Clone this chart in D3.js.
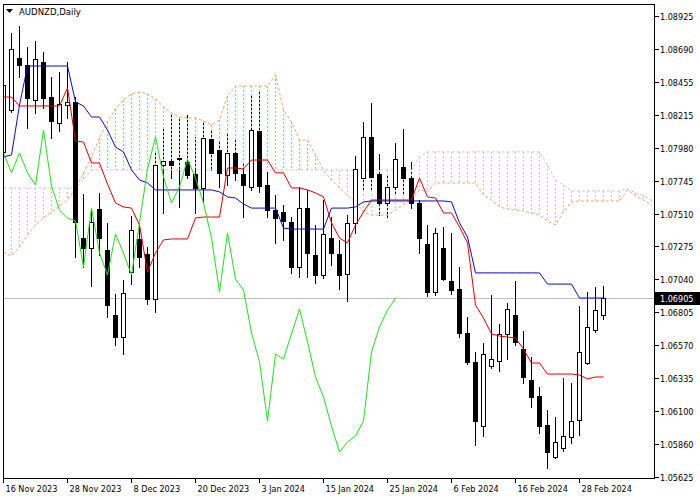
<!DOCTYPE html>
<html><head><meta charset="utf-8">
<script src="https://cdn.jsdelivr.net/npm/d3@7"></script>
<style>
html,body{margin:0;padding:0;background:#fff;}
svg{display:block;}
text{font-family:"DejaVu Sans Condensed","Liberation Sans",sans-serif;font-size:9px;fill:#000;}
</style></head>
<body>
<svg id="c" width="700" height="500"></svg>
<script>
const symbol = "AUDNZD,Daily";
const dates = ["16 Nov 2023","17 Nov 2023","20 Nov 2023","21 Nov 2023","22 Nov 2023","23 Nov 2023","24 Nov 2023","27 Nov 2023","28 Nov 2023","29 Nov 2023",
"30 Nov 2023","1 Dec 2023","4 Dec 2023","5 Dec 2023","6 Dec 2023","7 Dec 2023","8 Dec 2023","11 Dec 2023","12 Dec 2023","13 Dec 2023",
"14 Dec 2023","15 Dec 2023","18 Dec 2023","19 Dec 2023","20 Dec 2023","21 Dec 2023","22 Dec 2023","26 Dec 2023","27 Dec 2023","28 Dec 2023",
"29 Dec 2023","2 Jan 2024","3 Jan 2024","4 Jan 2024","5 Jan 2024","8 Jan 2024","9 Jan 2024","10 Jan 2024","11 Jan 2024","12 Jan 2024",
"15 Jan 2024","16 Jan 2024","17 Jan 2024","18 Jan 2024","19 Jan 2024","22 Jan 2024","23 Jan 2024","24 Jan 2024","25 Jan 2024","26 Jan 2024",
"29 Jan 2024","30 Jan 2024","31 Jan 2024","1 Feb 2024","2 Feb 2024","5 Feb 2024","6 Feb 2024","7 Feb 2024","8 Feb 2024","9 Feb 2024",
"12 Feb 2024","13 Feb 2024","14 Feb 2024","15 Feb 2024","16 Feb 2024","19 Feb 2024","20 Feb 2024","21 Feb 2024","22 Feb 2024","23 Feb 2024",
"26 Feb 2024","27 Feb 2024","28 Feb 2024","29 Feb 2024","1 Mar 2024","4 Mar 2024"];

const opens = [1.07952,1.08252,1.08625,1.08574,1.08324,1.08596,1.08345,1.08160,1.08288,1.08310,
1.07336,1.07264,1.07543,1.07250,1.06784,1.06627,1.07093,1.07329,1.07221,1.06899,
1.07858,1.07887,1.07909,1.07880,1.07794,1.07694,1.08045,1.07966,1.07787,1.07945,
1.07794,1.07701,1.08102,1.07715,1.07536,1.07522,1.07451,1.07128,1.07550,1.07214,
1.07071,1.07336,1.07221,1.07078,1.07444,1.07765,1.08059,1.07794,1.07587,1.07701,
1.07844,1.07765,1.07587,1.07293,1.06950,1.07264,1.07028,1.06971,1.06656,1.06449,
1.05990,1.06420,1.06456,1.06649,1.06784,1.06541,1.06320,1.06205,1.05997,1.05768,
1.05833,1.05912,1.06033,1.06441,1.06677,1.06784];
const highs = [1.08467,1.08804,1.08853,1.08703,1.08746,1.08668,1.08488,1.08524,1.08596,1.08345,
1.07651,1.07536,1.07659,1.07444,1.06935,1.07035,1.07494,1.07415,1.07271,1.07945,
1.08131,1.08216,1.08195,1.08216,1.08059,1.08167,1.08109,1.08037,1.08088,1.08037,
1.07873,1.08360,1.08395,1.07809,1.07644,1.07572,1.07486,1.07701,1.07680,1.07429,
1.07608,1.07486,1.07322,1.07500,1.07923,1.08167,1.08303,1.07937,1.07794,1.08016,
1.08116,1.07880,1.07608,1.07429,1.07408,1.07415,1.07372,1.07128,1.06770,1.06520,
1.06584,1.06928,1.06720,1.06871,1.07028,1.06670,1.06484,1.06269,1.06105,1.06054,
1.06334,1.06298,1.06849,1.06950,1.06985,1.06992];
const lows = [1.07909,1.08238,1.08488,1.08124,1.08231,1.08267,1.08052,1.08102,1.08195,1.07200,
1.07128,1.06992,1.07214,1.06770,1.06570,1.06505,1.07006,1.07128,1.06863,1.06806,
1.07515,1.07765,1.07558,1.07765,1.07515,1.07594,1.07823,1.07701,1.07715,1.07751,
1.07486,1.07680,1.07666,1.07486,1.07301,1.07322,1.07086,1.07057,1.07057,1.07014,
1.07050,1.07143,1.06971,1.06885,1.07372,1.07680,1.07680,1.07500,1.07486,1.07644,
1.07659,1.07550,1.07229,1.06921,1.06928,1.07035,1.06935,1.06627,1.06434,1.05854,
1.05919,1.06405,1.06384,1.06470,1.06570,1.06298,1.06126,1.05941,1.05689,1.05761,
1.05811,1.05869,1.05926,1.06434,1.06663,1.06756];
const closes = [1.08431,1.08689,1.08574,1.08338,1.08618,1.08338,1.08174,1.08295,1.08310,1.07451,
1.07264,1.07451,1.07336,1.06856,1.06627,1.06943,1.07393,1.07200,1.06899,1.07858,
1.07887,1.07858,1.07901,1.07787,1.07694,1.08052,1.07945,1.07802,1.07945,1.07802,
1.07715,1.08109,1.07708,1.07536,1.07479,1.07458,1.07128,1.07550,1.07229,1.07071,
1.07364,1.07229,1.07071,1.07444,1.07830,1.08059,1.07773,1.07587,1.07701,1.07901,
1.07765,1.07587,1.07336,1.06950,1.07372,1.07042,1.06964,1.06656,1.06449,1.06026,
1.06505,1.06470,1.06649,1.06828,1.06591,1.06341,1.06198,1.05990,1.05804,1.05876,
1.05919,1.06026,1.06520,1.06699,1.06820,1.06905];

const tenkan = [1.08345,1.08345,1.08281,1.08281,1.08281,1.08281,1.08281,1.08281,1.08410,1.08030,
1.08023,1.07873,1.07873,1.07722,1.07587,1.07558,1.07550,1.07429,1.07093,1.07229,
1.07322,1.07329,1.07329,1.07329,1.07479,1.07486,1.07486,1.07486,1.07837,1.07837,
1.07830,1.07894,1.07894,1.07894,1.07802,1.07802,1.07694,1.07694,1.07680,1.07659,
1.07630,1.07444,1.07336,1.07301,1.07429,1.07522,1.07608,1.07608,1.07608,1.07608,
1.07608,1.07608,1.07765,1.07630,1.07622,1.07515,1.07515,1.07415,1.07301,1.06856,
1.06763,1.06649,1.06634,1.06627,1.06620,1.06541,1.06441,1.06441,1.06362,1.06362,
1.06362,1.06362,1.06355,1.06327,1.06341,1.06341];
const kijun = [1.07916,1.07930,1.08288,1.08567,1.08567,1.08567,1.08567,1.08567,1.08567,1.08310,
1.08281,1.08202,1.08202,1.08109,1.07987,1.07952,1.07823,1.07751,1.07730,1.07680,
1.07680,1.07680,1.07680,1.07680,1.07680,1.07680,1.07680,1.07666,1.07630,1.07622,
1.07579,1.07550,1.07550,1.07550,1.07550,1.07407,1.07400,1.07400,1.07400,1.07400,
1.07400,1.07550,1.07550,1.07550,1.07558,1.07594,1.07601,1.07601,1.07601,1.07601,
1.07601,1.07601,1.07601,1.07601,1.07601,1.07601,1.07594,1.07444,1.07343,1.07086,
1.07086,1.07086,1.07086,1.07086,1.07086,1.07086,1.07086,1.07086,1.07006,1.07006,
1.07006,1.07006,1.06906,1.06906,1.06906,1.06906];
const senkouA = [1.07236,1.07207,1.07271,1.07357,1.07429,1.07479,1.07522,1.07565,1.07608,1.07687,
1.07802,1.07916,1.08052,1.08167,1.08260,1.08324,1.08367,1.08381,1.08367,1.08331,
1.08274,1.08231,1.08202,1.08195,1.08195,1.08174,1.08145,1.08181,1.08352,1.08424,
1.08424,1.08424,1.08424,1.08424,1.08503,1.08252,1.08167,1.08037,1.08037,1.07930,
1.07823,1.07751,1.07694,1.07644,1.07594,1.07522,1.07500,1.07500,1.07500,1.07536,
1.07572,1.07608,1.07680,1.07666,1.07730,1.07730,1.07730,1.07730,1.07730,1.07730,
1.07644,1.07608,1.07558,1.07543,1.07536,1.07529,1.07515,1.07500,1.07458,1.07429,
1.07522,1.07594,1.07601,1.07601,1.07601,1.07601,1.07601,1.07601,1.07680,1.07637,
1.07608,1.07572];
const senkouB = [1.07694,1.07694,1.07694,1.07694,1.07694,1.07694,1.07694,1.07694,1.07694,1.07694,
1.07751,1.07823,1.07823,1.07823,1.07823,1.07823,1.07823,1.07823,1.07823,1.07823,
1.07823,1.07823,1.07823,1.07823,1.07823,1.07823,1.07823,1.07823,1.07823,1.07823,
1.07823,1.07823,1.07823,1.07823,1.07823,1.07823,1.07823,1.07823,1.07823,1.07823,
1.07823,1.07823,1.07823,1.07823,1.07823,1.07823,1.07823,1.07823,1.07823,1.07823,
1.07823,1.07823,1.07916,1.07952,1.07952,1.07952,1.07952,1.07952,1.07952,1.07952,
1.07952,1.07952,1.07952,1.07952,1.07952,1.07952,1.07952,1.07952,1.07858,1.07751,
1.07715,1.07673,1.07673,1.07673,1.07673,1.07673,1.07673,1.07673,1.07687,1.07659,
1.07637,1.07608];
const chikouShift = 26;
const yTicks = [1.08925,1.08690,1.08455,1.08215,1.07980,1.07745,1.07510,1.07275,1.07040,1.06805,1.06570,1.06335,1.06100,1.05860,1.05625];
const yTickLabels = ["1.08925","1.08690","1.08455","1.08215","1.07980","1.07745","1.07510","1.07275","1.07040","1.06805","1.06570","1.06335","1.06100","1.05860","1.05625"];
const xTickLabels = ["16 Nov 2023","28 Nov 2023","8 Dec 2023","20 Dec 2023","3 Jan 2024","15 Jan 2024","25 Jan 2024","6 Feb 2024","16 Feb 2024","28 Feb 2024"];
const lastPrice = 1.06905;
const lastPriceLabel = "1.06905";

const svg = d3.select("#c");
const L = 3, R = 654, T = 4, B = 478;
const x = d3.scaleLinear().domain([0, 75]).range([3.5, 603.5]);
const y = d3.scaleLinear().domain([1.05625, 1.08925]).range([477, 16]);
const cx = i => Math.floor(x(i));
const ry = v => Math.round(y(v));

svg.append("defs").append("clipPath").attr("id","plot")
  .append("rect").attr("x",L).attr("y",T).attr("width",R-L).attr("height",B-T);
const g = svg.append("g").attr("clip-path","url(#plot)");

// current price line
g.append("line").attr("x1",L).attr("x2",R)
  .attr("y1",ry(lastPrice)+0.5).attr("y2",ry(lastPrice)+0.5)
  .attr("stroke","#c0c0c0").attr("stroke-width",1);

const idx = d3.range(closes.length);
// wicks
g.selectAll("line.wick").data(idx).join("line").attr("class","wick")
  .attr("x1",i=>cx(i)+0.5).attr("x2",i=>cx(i)+0.5)
  .attr("y1",i=>ry(highs[i])).attr("y2",i=>ry(lows[i])+1)
  .attr("stroke","#000").attr("stroke-width",1);

// cloud hatch
const cidx = d3.range(senkouA.length);
const sandy = "#f2a86e", thistle = "#d8bfd8";
g.selectAll("line.hatch").data(cidx).join("line").attr("class","hatch")
  .attr("x1",i=>cx(i)+0.5).attr("x2",i=>cx(i)+0.5)
  .attr("y1",i=>ry(Math.max(senkouA[i],senkouB[i])))
  .attr("y2",i=>ry(Math.min(senkouA[i],senkouB[i])))
  .attr("stroke",i=>senkouA[i]>=senkouB[i]?sandy:thistle)
  .attr("stroke-width",1).attr("stroke-dasharray","2,2")
  .attr("shape-rendering","crispEdges");
const lineA = d3.line().x((d,i)=>x(i)).y(d=>y(d));
g.append("path").attr("d",lineA(senkouA)).attr("fill","none")
  .attr("stroke",sandy).attr("stroke-width",1).attr("stroke-dasharray","3,2");
g.append("path").attr("d",lineA(senkouB)).attr("fill","none")
  .attr("stroke",thistle).attr("stroke-width",1).attr("stroke-dasharray","3,2");

// bodies
g.selectAll("rect.body").data(idx).join("rect").attr("class","body")
  .attr("x",i=>cx(i)-1.5)
  .attr("y",i=>ry(Math.max(opens[i],closes[i]))+0.5)
  .attr("width",4)
  .attr("height",i=>Math.max(ry(Math.min(opens[i],closes[i]))-ry(Math.max(opens[i],closes[i])),1))
  .attr("fill",i=>closes[i]>=opens[i]?"#fff":"#000")
  .attr("stroke","#000").attr("stroke-width",1);

// lines
const ln = d3.line().x((d,i)=>x(i)).y(d=>y(d));
g.append("path").attr("d",ln(tenkan)).attr("fill","none").attr("stroke","#e00000").attr("stroke-width",1);
g.append("path").attr("d",ln(kijun)).attr("fill","none").attr("stroke","#0a0ac8").attr("stroke-width",1);
const chikou = closes.slice(chikouShift);
g.append("path").attr("d",ln(chikou)).attr("fill","none").attr("stroke","#22dd22").attr("stroke-width",1);

// frame
svg.append("rect").attr("x",L+0.5).attr("y",T+0.5).attr("width",R-L).attr("height",B-T)
  .attr("fill","none").attr("stroke","#000").attr("stroke-width",1);

// y axis
yTicks.forEach((v,j)=>{
  const yy = ry(v);
  svg.append("line").attr("x1",R+1).attr("x2",R+5).attr("y1",yy+0.5).attr("y2",yy+0.5).attr("stroke","#000");
  svg.append("text").attr("x",660).attr("y",yy+0.5).attr("dy","0.35em").text(yTickLabels[j]);
});
// price box
const py = ry(lastPrice);
svg.append("rect").attr("x",R+1).attr("y",py-6).attr("width",700-R-1).attr("height",13).attr("fill","#000");
svg.append("text").attr("x",660).attr("y",py+0.5).attr("dy","0.35em").style("fill","#fff").text(lastPriceLabel);

// x axis
xTickLabels.forEach(lab=>{
  const i = dates.indexOf(lab);
  const xx = cx(i)+0.5;
  svg.append("line").attr("x1",xx).attr("x2",xx).attr("y1",B+1).attr("y2",B+5).attr("stroke","#000");
  svg.append("text").attr("x",xx+2).attr("y",492).text(lab);
});

// title
svg.append("path").attr("d","M6,9 L13,9 L9.5,13 Z").attr("fill","#000");
svg.append("text").attr("x",19).attr("y",15).style("font-size","9.5px").text(symbol);
</script>
</body></html>
